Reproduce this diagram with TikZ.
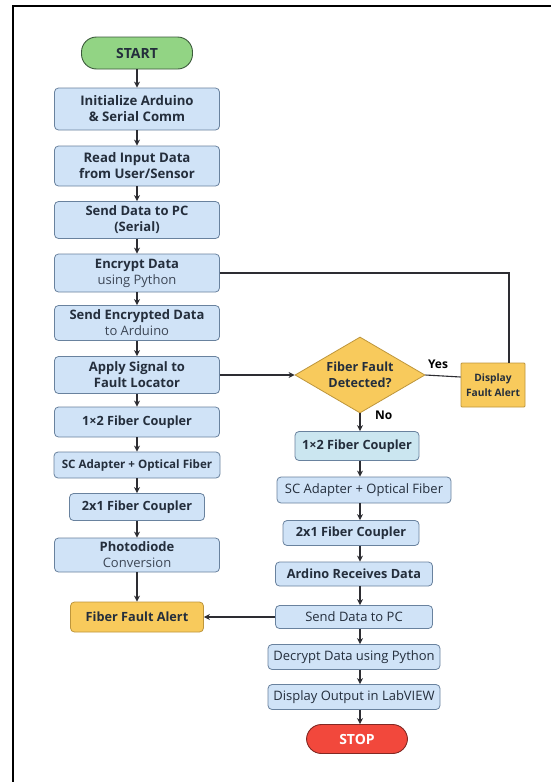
\documentclass[tikz,border=0pt]{standalone}
\usepackage{fontspec}
\setmainfont{Open Sans}
\usetikzlibrary{arrows.meta,shapes.geometric,calc}
\definecolor{boxc}{RGB}{208,227,247}
\definecolor{boxcy}{RGB}{203,230,240}
\definecolor{bordc}{RGB}{105,130,158}
\definecolor{txt}{RGB}{36,46,60}
\definecolor{subc}{RGB}{60,70,85}
\definecolor{startc}{RGB}{146,212,132}
\definecolor{startb}{RGB}{60,90,60}
\definecolor{orc}{RGB}{248,202,92}
\definecolor{orb}{RGB}{190,150,60}
\definecolor{stopc}{RGB}{242,72,60}
\definecolor{stopb}{RGB}{130,40,35}
\definecolor{arrc}{RGB}{45,45,50}
\tikzset{
  box/.style={draw=bordc, fill=boxc, rounded corners=4pt, line width=0.8pt,
    inner sep=0pt, align=center, text=txt,
    font=\bfseries\fontsize{12.7}{16}\selectfont},
  boxr/.style={box, font=\fontsize{13}{16}\selectfont},
  term/.style={draw, line width=0.9pt, rounded corners=15pt, inner sep=0pt,
    font=\bfseries\fontsize{14}{16}\selectfont},
  arr/.style={draw=arrc, line width=1.1pt, -{Stealth[length=6pt,width=6pt]}},
  plain/.style={draw=arrc, line width=1.1pt},
  lbl/.style={font=\bfseries\fontsize{12}{14}\selectfont, text=black, inner sep=1pt}
}
\newcommand{\subl}[1]{{\mdseries\color{subc}#1}}
\begin{document}
\begin{tikzpicture}[x=1pt,y=-1pt]
\useasboundingbox (0,0) rectangle (551,782);
\fill[white] (0,0) rectangle (551,782);
% frame
\draw[line width=2pt, black] (13,782) -- (13,6) -- (551,6);

% left column
\node[term, fill=startc, draw=startb, text=txt, minimum width=111pt, minimum height=32pt] (start) at (137,53) {START};
\node[box, font=\bfseries\fontsize{13.2}{16}\selectfont, minimum width=165pt, minimum height=42pt] (init) at (137,109) {Initialize Arduino\\\& Serial Comm};
\node[box, font=\bfseries\fontsize{13.2}{16}\selectfont, minimum width=165pt, minimum height=40pt] (read) at (137,166) {Read Input Data\\from User/Sensor};
\node[box, font=\bfseries\fontsize{13}{16}\selectfont, minimum width=165pt, minimum height=37pt] (send) at (137,220) {Send Data to PC\\(Serial)};
\node[box, font=\bfseries\fontsize{13}{16}\selectfont, minimum width=165pt, minimum height=38pt] (enc) at (137,273) {Encrypt Data\\\subl{using Python}};
\node[box, font=\bfseries\fontsize{13}{16}\selectfont, minimum width=165pt, minimum height=35pt] (sendenc) at (137,323) {Send Encrypted Data\\\subl{to Arduino}};
\node[box, font=\bfseries\fontsize{13}{16}\selectfont, minimum width=165pt, minimum height=37pt] (apply) at (137,375) {Apply Signal to\\Fault Locator};
\node[box, minimum width=165pt, minimum height=30pt] (c12l) at (137,422) {1×2 Fiber Coupler};
\node[box, font=\bfseries\fontsize{11.6}{15}\selectfont, minimum width=166pt, minimum height=26pt] (scl) at (137,465) {SC Adapter + Optical Fiber};
\node[box, minimum width=135pt, minimum height=27pt] (c21l) at (137,507) {2x1 Fiber Coupler};
\node[box, font=\bfseries\fontsize{13}{16}\selectfont, minimum width=165pt, minimum height=34pt] (photo) at (137,555) {Photodiode\\\subl{Conversion}};
\node[box, fill=orc, draw=orb, minimum width=133pt, minimum height=30pt] (ffa) at (137,617) {Fiber Fault Alert};

% right column
\node[diamond, draw=orb, fill=orc, line width=0.8pt, aspect=1.7, inner sep=0pt,
  minimum width=130pt, minimum height=76pt, align=center, text=txt,
  font=\bfseries\fontsize{12.6}{16}\selectfont] (diam) at (360,375) {Fiber Fault\\Detected?};
\node[draw=orb, fill=orc, line width=0.8pt, rounded corners=1pt, inner sep=0pt,
  minimum width=64pt, minimum height=44pt, align=center, text=txt,
  font=\bfseries\fontsize{10.2}{15}\selectfont] (dfa) at (493,385) {Display\\Fault Alert};
\node[box, fill=boxcy, minimum width=124pt, minimum height=29pt] (c12r) at (357,446) {1×2 Fiber Coupler};
\node[boxr, minimum width=174pt, minimum height=26pt] (scr) at (364,490) {SC Adapter + Optical Fiber};
\node[box, minimum width=136pt, minimum height=25pt] (c21r) at (351,533) {2x1 Fiber Coupler};
\node[box, minimum width=157pt, minimum height=24pt] (ard) at (354,574) {Ardino Receives Data};
\node[boxr, minimum width=157pt, minimum height=23pt] (sdr) at (354,617) {Send Data to PC};
\node[boxr, minimum width=172pt, minimum height=25pt] (dec) at (354,657) {Decrypt Data using Python};
\node[boxr, minimum width=172pt, minimum height=25pt] (disp) at (354,697) {Display Output in LabVIEW};
\node[term, fill=stopc, draw=stopb, text=white, minimum width=101pt, minimum height=29pt] (stop) at (357,739) {STOP};

\coordinate (rc) at (360,0);

% left arrows
\draw[arr] (start) -- (init);
\draw[arr] (init) -- (read);
\draw[arr] (read) -- (send);
\draw[arr] (send) -- (enc);
\draw[arr] (enc) -- (sendenc);
\draw[arr] (sendenc) -- (apply);
\draw[arr] (apply) -- (c12l);
\draw[arr] (c12l) -- (scl);
\draw[arr] (scl) -- (c21l);
\draw[arr] (c21l) -- (photo);
\draw[arr] (photo) -- (ffa);

% cross links
\draw[plain] (enc.east) -| ([xshift=16pt]dfa.north);
\draw[arr] (apply.east) -- (diam.west);
\draw[plain] (diam.east) -- ([yshift=-2pt]diam.east -| dfa.west);
\node[lbl, anchor=south] (yes) at (438,370) {Yes};
\node[lbl, anchor=west] (no) at (374,415) {No};

% right arrows
\draw[arr] (diam.south) -- (diam.south |- c12r.north);
\draw[arr] (c12r.south -| rc) -- (scr.north -| rc);
\draw[arr] (scr.south -| rc) -- (c21r.north -| rc);
\draw[arr] (c21r.south -| rc) -- (ard.north -| rc);
\draw[arr] (ard.south -| rc) -- (sdr.north -| rc);
\draw[arr] (sdr.south -| rc) -- (dec.north -| rc);
\draw[arr] (dec.south -| rc) -- (disp.north -| rc);
\draw[arr] (disp.south -| rc) -- (stop.north -| rc);
\draw[arr] (sdr.west) -- (ffa.east);
\end{tikzpicture}
\end{document}
